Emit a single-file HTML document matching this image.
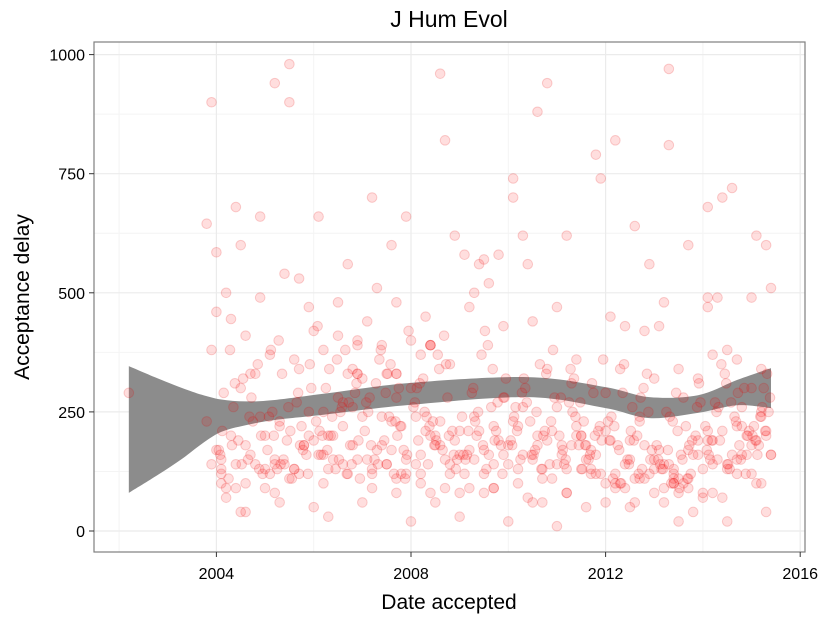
<!DOCTYPE html>
<html><head><meta charset="utf-8"><style>
body{margin:0;background:#fff;}
svg{display:block;font-family:"Liberation Sans Narrow","Liberation Sans",sans-serif;}
</style></head><body>
<svg id="chart" width="825" height="618" xmlns="http://www.w3.org/2000/svg">
<rect width="825" height="618" fill="#fff"/>
<g id="grid"></g>
<g id="band"></g>
<g id="pts"></g>
<rect x="94" y="42" width="711" height="510" fill="none" stroke="#7f7f7f" stroke-width="1.2"/>
<g id="axes"></g>
<text x="449" y="27" text-anchor="middle" font-size="23" fill="#000">J Hum Evol</text>
<text x="449" y="609" text-anchor="middle" font-size="21" fill="#000">Date accepted</text>
<text transform="translate(29,297) rotate(-90)" text-anchor="middle" font-size="21" fill="#000">Acceptance delay</text>
</svg>
<script>
const xTicks=[2004,2008,2012,2016];
const yTicks=[0,250,500,750,1000];
const xMinor=[2002,2006,2010,2014];
const yMinor=[125,375,625,875];
const bandX=[2002.2,2002.8,2003.3,2003.7,2004.1,2004.6,2005.2,2006.2,2008,2010.4,2012,2012.9,2013.9,2014.7,2015.4];
const bandUpper=[346,320,300,286,276,272,275,288,311,323,302,281,285,317,342];
const bandLower=[80,118,152,183,208,222,233,244,265,281,258,237,248,264,258];
const dates=[2002.2,2003.8,2003.9,2003.9,2004.0,2004.0,2004.1,2004.1,2004.2,2004.2,2004.3,2004.4,2004.4,2004.5,2004.5,2004.6,2004.6,2004.7,2004.8,2004.9,2004.9,2005.0,2005.0,2005.1,2005.2,2005.2,2005.3,2005.3,2005.4,2005.5,2005.5,2005.6,2005.6,2005.7,2005.8,2005.9,2005.9,2006.0,2006.0,2006.1,2006.2,2006.2,2006.3,2006.3,2006.4,2006.5,2006.5,2006.6,2006.6,2006.7,2006.8,2006.8,2006.9,2006.9,2007.0,2007.0,2007.1,2007.2,2007.2,2007.3,2007.3,2007.4,2007.5,2007.5,2007.6,2007.6,2007.7,2007.7,2007.8,2007.9,2007.9,2008.0,2008.0,2008.1,2008.2,2008.2,2008.3,2008.4,2008.4,2008.5,2008.6,2008.6,2008.7,2008.8,2008.8,2008.9,2009.0,2009.0,2009.1,2009.2,2009.2,2009.3,2009.3,2009.4,2009.5,2009.5,2009.6,2009.7,2009.7,2009.8,2009.9,2009.9,2010.0,2010.1,2010.1,2010.2,2010.3,2010.3,2010.4,2010.4,2010.5,2010.6,2010.6,2010.7,2010.8,2010.8,2010.9,2011.0,2011.0,2011.1,2011.2,2011.2,2011.3,2011.4,2011.4,2011.5,2011.6,2011.6,2011.7,2011.8,2011.8,2011.9,2012.0,2012.0,2012.1,2012.2,2012.2,2012.3,2012.4,2012.4,2012.5,2012.6,2012.6,2012.7,2012.8,2012.8,2012.9,2013.0,2013.0,2013.1,2013.2,2013.2,2013.3,2013.3,2013.4,2013.4,2013.5,2013.5,2013.6,2013.7,2013.7,2013.8,2013.9,2013.9,2014.0,2014.1,2014.1,2014.2,2014.2,2014.3,2014.4,2014.4,2014.5,2014.5,2014.6,2014.7,2014.7,2014.8,2014.8,2014.9,2015.0,2015.0,2015.1,2015.1,2015.2,2015.2,2015.3,2015.3,2015.4,2015.4,
2003.9,2004.1,2004.3,2004.6,2004.8,2005.1,2005.3,2005.6,2005.8,2006.1,2006.3,2006.6,2006.8,2007.1,2007.4,2007.6,2007.8,2008.1,2008.3,2008.5,2008.7,2008.9,2009.1,2009.4,2009.6,2009.8,2010.0,2010.2,2010.5,2010.7,2010.9,2011.1,2011.3,2011.5,2011.7,2011.9,2012.1,2012.3,2012.5,2012.7,2012.9,2013.1,2013.3,2013.5,2013.7,2013.9,2014.1,2014.3,2014.5,2014.7,2014.9,2015.1,2015.3,
2004.0,2004.2,2004.4,2004.7,2004.9,2005.2,2005.4,2005.7,2005.9,2006.2,2006.4,2006.7,2006.9,2007.2,2007.4,2007.7,2007.9,2008.2,2008.4,2008.6,2008.8,2009.0,2009.3,2009.5,2009.7,2009.9,2010.1,2010.3,2010.6,2010.8,2011.0,2011.2,2011.4,2011.6,2011.8,2012.0,2012.2,2012.4,2012.6,2012.8,2013.0,2013.2,2013.4,2013.6,2013.8,2014.0,2014.2,2014.4,2014.6,2014.8,2015.0,2015.2,2015.4,
2003.8,2004.5,2005.0,2005.5,2006.0,2006.5,2007.0,2007.5,2008.0,2008.5,2009.0,2009.5,2010.0,2010.5,2011.0,2011.5,2012.0,2012.5,2013.0,2013.5,2014.0,2014.5,2015.0,2015.3,
2004.1,2004.6,2005.2,2005.7,2006.2,2006.7,2007.2,2007.7,2008.2,2008.7,2009.2,2009.7,2010.2,2010.7,2011.2,2011.7,2012.2,2012.7,2013.2,2013.7,2014.2,2014.7,2015.2,
2006.9,2007.7,2008.4,2006.9,2007.7,2008.4,2014.1,2014.1,2013.4,2013.4,
2004.05,2004.15,2004.25,2004.35,2004.45,2004.55,2004.65,2004.75,2004.85,2004.95,2004.12,2004.32,2004.52,2004.72,2004.92,2004.08,2004.38,2004.68,2004.88,2004.28,
2005.05,2005.15,2005.25,2005.35,2005.45,2005.55,2005.65,2005.75,2005.85,2005.95,2005.12,2005.32,2005.52,2005.72,2005.92,2005.08,2005.38,2005.68,2005.88,2005.28,2005.18,2005.48,2005.78,
2006.05,2006.15,2006.25,2006.35,2006.45,2006.55,2006.65,2006.75,2006.85,2006.95,2006.12,2006.32,2006.52,2006.72,2006.92,2006.08,2006.38,2006.68,2006.88,2006.28,2006.18,2006.48,2006.78,2006.58,
2007.05,2007.15,2007.25,2007.35,2007.45,2007.55,2007.65,2007.75,2007.85,2007.95,2007.12,2007.32,2007.52,2007.72,2007.92,2007.08,2007.38,2007.68,2007.88,2007.28,2007.18,2007.48,2007.78,2007.58,
2008.05,2008.15,2008.25,2008.35,2008.45,2008.55,2008.65,2008.75,2008.85,2008.95,2008.12,2008.32,2008.52,2008.72,2008.92,2008.08,2008.38,2008.68,2008.88,2008.28,2008.18,2008.48,2008.78,2008.58,
2009.05,2009.15,2009.25,2009.35,2009.45,2009.55,2009.65,2009.75,2009.85,2009.95,2009.12,2009.32,2009.52,2009.72,2009.92,2009.08,2009.38,2009.68,2009.88,2009.28,2009.18,2009.48,2009.78,2009.58,
2010.05,2010.15,2010.25,2010.35,2010.45,2010.55,2010.65,2010.75,2010.85,2010.95,2010.12,2010.32,2010.52,2010.72,2010.92,2010.08,2010.38,2010.68,2010.88,2010.28,2010.18,2010.48,2010.78,2010.58,
2011.05,2011.15,2011.25,2011.35,2011.45,2011.55,2011.65,2011.75,2011.85,2011.95,2011.12,2011.32,2011.52,2011.72,2011.92,2011.08,2011.38,2011.68,2011.88,2011.28,2011.18,2011.48,2011.78,2011.58,
2012.05,2012.15,2012.25,2012.35,2012.45,2012.55,2012.65,2012.75,2012.85,2012.95,2012.12,2012.32,2012.52,2012.72,2012.92,2012.08,2012.38,2012.68,2012.88,2012.28,2012.18,2012.48,2012.78,2012.58,
2013.05,2013.15,2013.25,2013.35,2013.45,2013.55,2013.65,2013.75,2013.85,2013.95,2013.12,2013.32,2013.52,2013.72,2013.92,2013.08,2013.38,2013.68,2013.88,2013.28,2013.18,2013.48,2013.78,2013.58,
2014.05,2014.15,2014.25,2014.35,2014.45,2014.55,2014.65,2014.75,2014.85,2014.95,2014.12,2014.32,2014.52,2014.72,2014.92,2014.08,2014.38,2014.68,2014.88,2014.28,2014.18,2014.48,2014.78,2014.58,
2015.05,2015.15,2015.25,2015.35,2015.02,2015.12,2015.22,2015.32,2015.38,2015.08,2015.18,2015.28];
const delays=[290,645,140,900,585,460,150,130,500,90,445,680,140,600,300,100,410,160,140,490,660,200,90,370,940,140,220,60,540,980,900,360,130,530,180,250,470,420,190,660,160,380,130,30,150,480,410,270,140,560,340,180,390,400,320,240,440,700,130,510,170,390,330,140,600,170,480,110,220,660,150,300,400,240,370,120,450,390,80,200,960,230,820,120,350,620,80,160,580,170,470,240,500,560,120,570,520,140,90,580,280,430,180,700,740,130,620,260,560,70,440,880,200,110,340,940,110,260,470,180,620,80,310,220,360,200,50,150,170,790,120,740,290,100,450,120,820,340,90,430,190,640,60,240,420,110,560,320,130,430,60,480,970,810,100,120,80,340,280,600,170,40,160,320,80,680,190,140,370,490,70,700,140,380,720,150,360,260,160,200,490,300,620,100,240,340,600,200,160,510,380,
120,200,180,330,120,230,130,180,160,200,220,260,150,180,230,120,140,210,180,150,190,120,210,160,190,140,220,150,130,210,160,180,200,130,120,190,100,150,230,120,170,140,110,90,190,210,150,130,220,160,190,210,170,
70,90,330,240,150,140,340,200,250,200,330,150,120,240,280,120,160,200,180,140,210,150,170,220,160,230,160,180,190,140,130,200,180,160,210,100,140,110,180,150,140,130,100,160,130,190,210,160,220,180,250,160,230,
40,130,110,50,280,60,140,20,60,30,80,20,60,10,130,60,50,80,20,70,20,120,40,
100,40,80,120,100,120,90,80,100,90,90,90,100,60,80,120,90,110,90,110,80,120,100,
330,330,390,330,330,390,470,490,110,100,
170,290,110,260,190,320,150,230,350,120,210,180,140,280,200,160,310,240,130,380,
170,250,130,330,190,110,270,220,160,300,380,140,210,180,350,240,150,290,120,400,200,260,170,
230,160,300,200,130,250,380,180,290,110,210,340,150,270,190,430,240,120,310,170,200,360,140,260,
210,280,150,360,190,240,120,300,170,420,250,140,330,200,160,270,380,230,110,310,180,290,220,350,
260,190,320,140,230,370,170,280,210,150,300,240,190,350,130,270,220,410,160,250,310,180,200,340,
240,160,290,200,370,130,260,210,180,320,150,230,420,190,280,160,250,340,120,300,210,180,270,390,
190,260,150,300,230,170,350,210,140,280,240,320,160,200,380,180,270,130,230,290,210,160,330,250,
200,140,270,320,180,230,150,290,210,360,170,250,130,310,190,280,240,160,220,340,150,270,200,180,
230,110,180,290,150,260,200,130,330,170,240,100,210,280,150,190,350,120,250,170,220,140,300,190,
180,130,250,100,290,160,220,120,200,270,140,240,90,180,310,150,230,110,260,170,130,210,190,150,
220,150,270,190,330,130,240,180,300,210,160,260,140,290,200,170,350,230,120,250,190,310,150,270,
220,180,300,250,200,160,260,330,280,190,240,210];
function xs(d){return 216.4+(d-2004)*48.65;}
function ys(v){return 531-v*0.4764;}
const NS='http://www.w3.org/2000/svg';
function mk(tag,attrs,parent){const e=document.createElementNS(NS,tag);for(const k in attrs)e.setAttribute(k,attrs[k]);parent.appendChild(e);return e;}
const grid=document.getElementById('grid');
xMinor.forEach(t=>{const l=mk('line',{x1:xs(t),x2:xs(t),y1:42,y2:552,stroke:'#f4f4f4','stroke-width':1},grid);

});
yMinor.forEach(t=>{const l=mk('line',{x1:94,x2:805,y1:ys(t),y2:ys(t),stroke:'#f4f4f4','stroke-width':1},grid);

});
xTicks.forEach(t=>{const l=mk('line',{x1:xs(t),x2:xs(t),y1:42,y2:552,stroke:'#ebebeb','stroke-width':1.2},grid);

});
yTicks.forEach(t=>{const l=mk('line',{x1:94,x2:805,y1:ys(t),y2:ys(t),stroke:'#ebebeb','stroke-width':1.2},grid);

});
function spline(P){let s='';for(let i=0;i<P.length-1;i++){const p0=P[Math.max(0,i-1)],p1=P[i],p2=P[i+1],p3=P[Math.min(P.length-1,i+2)];
const c1=[p1[0]+(p2[0]-p0[0])/6,p1[1]+(p2[1]-p0[1])/6],c2=[p2[0]-(p3[0]-p1[0])/6,p2[1]-(p3[1]-p1[1])/6];
s+=' C'+c1[0]+','+c1[1]+' '+c2[0]+','+c2[1]+' '+p2[0]+','+p2[1];}return s;}
const up=bandX.map((d,i)=>[xs(d),ys(bandUpper[i])]);
const lo=bandX.map((d,i)=>[xs(d),ys(bandLower[i])]).reverse();
const dpath='M'+up[0][0]+','+up[0][1]+spline(up)+' L'+lo[0][0]+','+lo[0][1]+spline(lo)+' Z';
const band=mk('path',{d:dpath,fill:'#8c8c8c'},document.getElementById('band'));


const pg=document.getElementById('pts');
dates.forEach((d,i)=>{const c=mk('circle',{cx:xs(d),cy:ys(delays[i]),r:4.8,fill:'rgba(255,0,0,0.13)',stroke:'rgba(230,0,0,0.18)','stroke-width':1},pg);

});
const ax=document.getElementById('axes');
xTicks.forEach(t=>{mk('line',{x1:xs(t),x2:xs(t),y1:552,y2:557,stroke:'#333'},ax);
const tx=mk('text',{x:xs(t),y:579,'text-anchor':'middle','font-size':16,fill:'#000'},ax);tx.textContent=t;

});
yTicks.forEach(t=>{mk('line',{x1:89,x2:94,y1:ys(t),y2:ys(t),stroke:'#333'},ax);
const tx=mk('text',{x:85,y:ys(t)+6,'text-anchor':'end','font-size':16,fill:'#000'},ax);tx.textContent=t;

});
</script>
</body></html>
